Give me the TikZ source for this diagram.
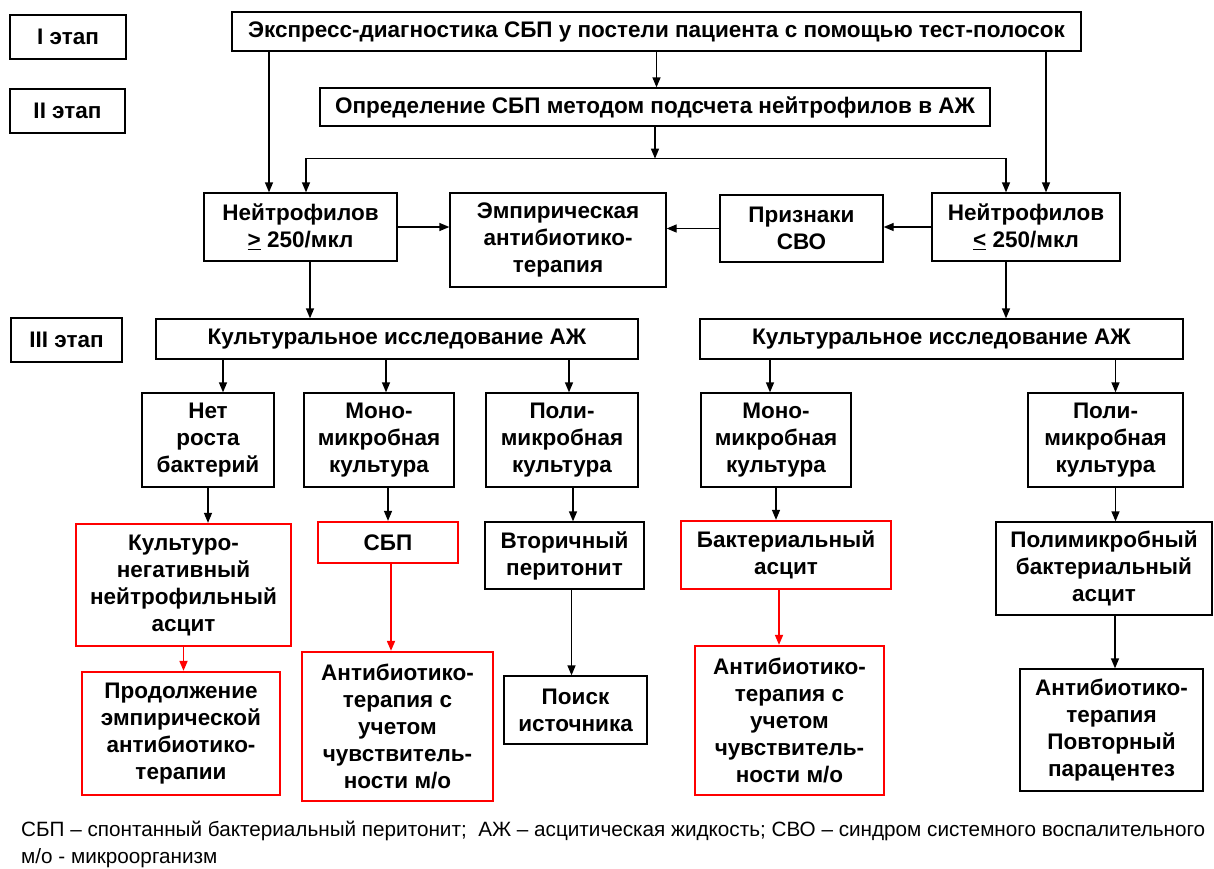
\documentclass[tikz,border=0pt]{standalone}
\usepackage{fontspec}
\setmainfont{Liberation Sans}
\usetikzlibrary{arrows.meta}

\tikzset{
  box/.style={draw=black, line width=1.3pt, fill=white, align=center, inner sep=2pt,
    font=\fontsize{22.5}{27}\selectfont\bfseries},
  redbox/.style={box, draw=red, line width=2.3pt},
  arr/.style={line width=1.3pt, -{Triangle[length=10pt,width=8pt]}},
  redarr/.style={arr, draw=red, line width=1.7pt},
}

\begin{document}
\begin{tikzpicture}[x=1pt, y=-1pt]
\useasboundingbox (0,0) rectangle (1214,868);

% Stage labels
\node[box, minimum width=116, minimum height=44] (stageI) at (68,37) {I этап};
\node[box, minimum width=115, minimum height=44] (stageII) at (67.5,111) {II этап};
\node[box, minimum width=111, minimum height=44] (stageIII) at (66.5,340) {III этап};

% Stage I and II
\node[box, minimum width=849, minimum height=39] (express) at (656.5,31.5)
  {Экспресс-диагностика СБП у постели пациента с помощью тест-полосок};
\node[box, minimum width=670, minimum height=38] (count) at (655,107)
  {Определение СБП методом подсчета нейтрофилов в АЖ};

% Neutrophil count row
\node[box, minimum width=193, minimum height=68] (nge) at (300.5,227) {Нейтрофилов\\\underline{>} 250/мкл};
\node[box, minimum width=216, minimum height=94] (empir) at (558,240) {Эмпирическая\\антибиотико-\\терапия};
\node[box, minimum width=163, minimum height=67] (signs) at (801.5,228.5) {Признаки\\СВО};
\node[box, minimum width=188, minimum height=68] (nle) at (1026,227) {Нейтрофилов\\\underline{<} 250/мкл};

% Stage III: culture
\node[box, minimum width=482, minimum height=40] (cultL) at (397,339) {Культуральное исследование АЖ};
\node[box, minimum width=483, minimum height=40] (cultR) at (941.5,339) {Культуральное исследование АЖ};

% Culture results
\node[box, minimum width=132, minimum height=94] (nogrowth) at (208,440) {Нет\\роста\\бактерий};
\node[box, minimum width=150, minimum height=94] (monoL) at (379,440) {Моно-\\микробная\\культура};
\node[box, minimum width=152, minimum height=94] (polyL) at (562,440) {Поли-\\микробная\\культура};
\node[box, minimum width=150, minimum height=94] (monoR) at (776,440) {Моно-\\микробная\\культура};
\node[box, minimum width=155, minimum height=94] (polyR) at (1105.5,440) {Поли-\\микробная\\культура};

% Diagnoses
\node[redbox, minimum width=215, minimum height=122] (culneg) at (183.5,585) {Культуро-\\негативный\\нейтрофильный\\асцит};
\node[redbox, minimum width=140, minimum height=41] (sbp) at (388,542.5) {СБП};
\node[box, minimum width=159, minimum height=67] (second) at (564.5,555.5) {Вторичный\\перитонит};
\node[redbox, minimum width=210, minimum height=68] (bactasc) at (786,555) {Бактериальный\\асцит};
\node[box, minimum width=216, minimum height=93] (polyasc) at (1104,568.5) {Полимикробный\\бактериальный\\асцит};

% Treatment
\node[redbox, minimum width=198, minimum height=123] (contin) at (181,733.5) {Продолжение\\эмпирической\\антибиотико-\\терапии};
\node[redbox, minimum width=191, minimum height=149] (abL) at (397.5,726.5) {Антибиотико-\\терапия с\\учетом\\чувствитель-\\ности м/о};
\node[box, minimum width=143, minimum height=68] (search) at (575.5,710) {Поиск\\источника};
\node[redbox, minimum width=189, minimum height=149] (abR) at (789.5,720.5) {Антибиотико-\\терапия с\\учетом\\чувствитель-\\ности м/о};
\node[box, minimum width=183, minimum height=122] (abrep) at (1111.5,730) {Антибиотико-\\терапия\\Повторный\\парацентез};

% Footnote
\node[anchor=north west, align=left, inner sep=0pt, font=\fontsize{20.7}{27}\selectfont] (note) at (21,821)
  {СБП – спонтанный бактериальный перитонит;\ \ АЖ – асцитическая жидкость; СВО – синдром системного воспалительного\\м/о - микроорганизм};

\begin{scope}[arr]
% From the top
\draw ([xshift=-31.5]express.south -| nge.north) -- ([xshift=-31.5]nge.north);
\draw ([xshift=20]express.south -| nle.north) -- ([xshift=20]nle.north);
\draw (express.south) -- (express.south |- count.north);
\draw (count.south) -- ++(0,32) coordinate (split);
\draw (split) -| ([xshift=5.5]nge.north);
\draw (split) -| ([xshift=-20]nle.north);

% Middle row
\draw (nge.east) -- (nge.east -| empir.west);
\draw (nle.west) -- (nle.west -| signs.east);
\draw (signs.west) -- (signs.west -| empir.east);

% Down to culture
\draw ([xshift=9.5]nge.south) -- ([xshift=9.5]nge.south |- cultL.north);
\draw ([xshift=-20]nle.south) -- ([xshift=-20]nle.south |- cultR.north);

% Culture results
\draw ([xshift=15]cultL.south -| nogrowth.north) -- ([xshift=15]nogrowth.north);
\draw ([xshift=7]cultL.south -| monoL.north) -- ([xshift=7]monoL.north);
\draw ([xshift=7]cultL.south -| polyL.north) -- ([xshift=7]polyL.north);
\draw ([xshift=-6]cultR.south -| monoR.north) -- ([xshift=-6]monoR.north);
\draw ([xshift=10]cultR.south -| polyR.north) -- ([xshift=10]polyR.north);

% Diagnoses
\draw (nogrowth.south) -- (nogrowth.south |- culneg.north);
\draw (sbp.north |- monoL.south) -- (sbp.north);
\draw ([xshift=11]polyL.south) -- ([xshift=11]polyL.south |- second.north);
\draw (monoR.south) -- (monoR.south |- bactasc.north);
\draw ([xshift=10]polyR.south) -- ([xshift=10]polyR.south |- polyasc.north);

% Treatment
\draw ([xshift=7]second.south) -- ([xshift=7]second.south |- search.north);
\draw ([xshift=11]polyasc.south) -- ([xshift=11]polyasc.south |- abrep.north);
\end{scope}

\begin{scope}[redarr]
\draw (culneg.south) -- (culneg.south |- contin.north);
\draw ([xshift=3]sbp.south) -- ([xshift=3]sbp.south |- abL.north);
\draw ([xshift=-7]bactasc.south) -- ([xshift=-7]bactasc.south |- abR.north);
\end{scope}

\end{tikzpicture}
\end{document}
